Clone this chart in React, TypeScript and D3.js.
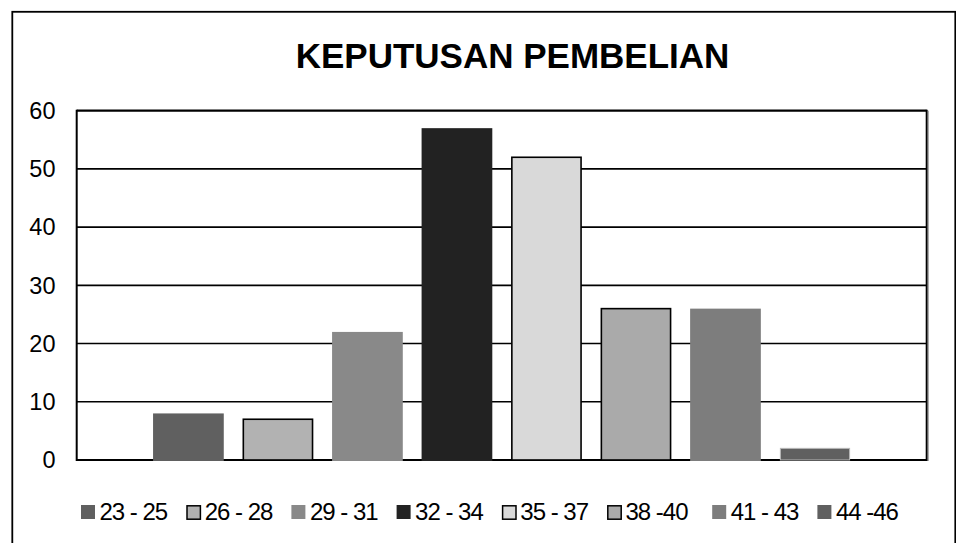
import React from "react";
import * as d3 from "d3";

const categories = ["23 - 25", "26 - 28", "29 - 31", "32 - 34", "35 - 37", "38 -40", "41 - 43", "44 -46"];
const values = [8, 7, 22, 57, 52, 26, 26, 2];
const fills = ["#606060", "#b2b2b2", "#898989", "#222222", "#d9d9d9", "#aaaaaa", "#7d7d7d", "#606060"];
const strokes = ["none", "#000000", "none", "none", "#000000", "#000000", "none", "#b8b8b8"];
const yTicks = [0, 10, 20, 30, 40, 50, 60];
const title = "KEPUTUSAN PEMBELIAN";

const W = 956;
const H = 543;
const plot = { left: 76.7, right: 926.7, top: 110.7, bottom: 460 };
const FONT = "Arial, 'Liberation Sans', sans-serif";

export default function App() {
  const x = d3
    .scaleBand<string>()
    .domain(categories)
    .range([plot.left, plot.right])
    .paddingInner(0.21)
    .paddingOuter(0.853);
  const y = d3.scaleLinear().domain([0, 60]).range([plot.bottom, plot.top]);
  const legendX = d3.scaleBand<string>().domain(categories).range([81, 81 + 8 * 105.2]).padding(0);

  return (
    <svg
      width={W}
      height={H}
      viewBox={`0 0 ${W} ${H}`}
      style={{ position: "absolute", left: 0, top: 0, display: "block", background: "#fff" }}
    >
      <rect x={0} y={0} width={W} height={H} fill="#fff" />
      {/* outer frame */}
      <rect x={12.3} y={11.8} width={943} height={560} fill="none" stroke="#000" strokeWidth={1.8} />
      {/* title */}
      <text
        x={512.5}
        y={68.3}
        textAnchor="middle"
        fontFamily={FONT}
        fontWeight="bold"
        fontSize={35}
        fill="#000"
      >
        {title}
      </text>
      {/* gridlines */}
      {yTicks.map((t) => (
        <line
          key={"g" + t}
          x1={plot.left}
          x2={plot.right}
          y1={y(t)}
          y2={y(t)}
          stroke="#000"
          strokeWidth={t === 60 || t === 0 ? 2.2 : 1.6}
        />
      ))}
      {/* plot border sides */}
      <line x1={plot.left} x2={plot.left} y1={plot.top - 1} y2={plot.bottom + 1} stroke="#000" strokeWidth={2} />
      <line x1={plot.right} x2={plot.right} y1={plot.top - 1} y2={plot.bottom + 1} stroke="#000" strokeWidth={2} />
      <line x1={plot.right + 1.6} x2={plot.right + 1.6} y1={plot.top} y2={plot.bottom + 1} stroke="#999" strokeWidth={1} />
      {/* bars */}
      {categories.map((c, i) => {
        const bx = x(c)!;
        const bw = x.bandwidth();
        const top = y(values[i]);
        const bordered = strokes[i] !== "none";
        return (
          <rect
            key={"b" + c}
            x={bx + (bordered ? 0.75 : 0)}
            y={top}
            width={bw - (bordered ? 1.5 : 0)}
            height={plot.bottom - top + (bordered ? 0 : 1)}
            fill={fills[i]}
            stroke={bordered ? strokes[i] : "none"}
            strokeWidth={strokes[i] === "#000000" ? 1.6 : 1}
          />
        );
      })}
      {/* y tick labels */}
      {yTicks.map((t) => (
        <text
          key={"t" + t}
          x={55.5}
          y={y(t)}
          dy="0.35em"
          textAnchor="end"
          fontFamily={FONT}
          fontSize={23.5}
          fill="#000"
        >
          {t}
        </text>
      ))}
      {/* legend */}
      {categories.map((c, i) => {
        const lx = legendX(c)!;
        const bordered = strokes[i] === "#000000";
        return (
          <g key={"l" + c}>
            <rect
              x={lx + (bordered ? 0.8 : 0)}
              y={505 + (bordered ? 0.8 : 0)}
              width={bordered ? 13.4 : 14}
              height={bordered ? 13.4 : 14}
              fill={fills[i]}
              stroke={bordered ? "#000" : "none"}
              strokeWidth={1.5}
            />
            <text
              x={lx + 18.5}
              y={519.5}
              fontFamily={FONT}
              fontSize={24}
              letterSpacing={-1}
              fill="#000"
            >
              {c}
            </text>
          </g>
        );
      })}
    </svg>
  );
}
